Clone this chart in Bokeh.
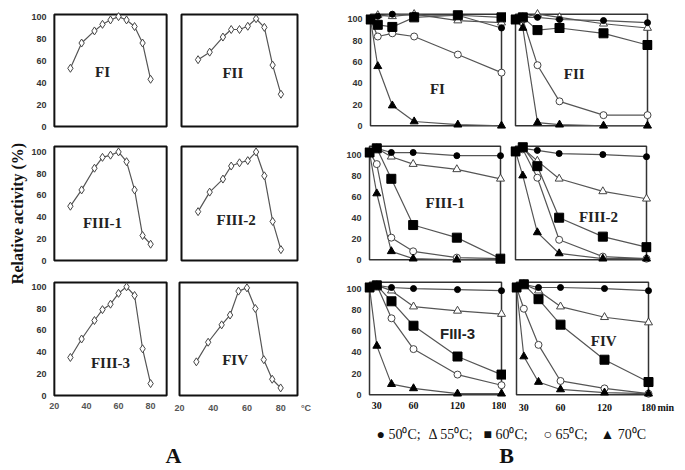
import math
from bokeh.plotting import figure
from bokeh.layouts import row, column
from bokeh.models import Range1d, FixedTicker, BoxAnnotation
from bokeh.core.properties import value
from bokeh.embed import file_html
from bokeh.resources import INLINE

# ---------------- data: panel A (temperature optimum) ----------------
temps = [30, 37, 45, 50, 55, 60, 65, 70, 75, 80]
a_FI = [53, 76, 87, 93, 97, 100, 97, 91, 76, 43]
a_FII = [62, 69, 83, 90, 90, 93, 100, 92, 57, 30]
a_FIII1 = [50, 65, 85, 95, 97, 100, 91, 65, 23, 15]
a_FIII2 = [45, 63, 75, 87, 90, 92, 100, 78, 36, 10]
a_FIII3 = [35, 52, 69, 79, 84, 94, 100, 92, 43, 11]
a_FIV = [31, 49, 65, 74, 96, 99, 80, 33, 15, 7]
a_xticks = [20, 40, 60, 80]
a_yticks = [0, 20, 40, 60, 80, 100]
a_unit = "°C"

# ---------------- data: panel B (thermal stability) ----------------
times = [0, 10, 30, 60, 120, 180]
b_xticks = [10, 60, 120, 180]
b_xtick_labels = {10: "30"}
b_unit = "min"
series_names = ["50⁰C;", "55⁰C;", "60⁰C;", "65⁰C;", "70⁰C"]

b_FI_50 = [100, 103, 105, 104, 104, 92]
b_FI_55 = [100, 104, 103, 105, 99, 97]
b_FI_60 = [100, 95, 93, 102, 104, 102]
b_FI_65 = [100, 84, 87, 84, 67, 50]
b_FI_70 = [100, 56, 19, 4, 1, 0]

b_FII_50 = [100, 102, 102, 100, 99, 97]
b_FII_55 = [100, 102, 105, 102, 96, 92]
b_FII_60 = [100, 102, 90, 92, 87, 76]
b_FII_65 = [100, 100, 57, 23, 10, 10]
b_FII_70 = [100, 92, 3, 1, 0, 0]

b_FIII1_50 = [102, 106, 102, 102, 99, 99]
b_FIII1_55 = [102, 106, 98, 91, 86, 77]
b_FIII1_60 = [102, 106, 77, 33, 21, 1]
b_FIII1_65 = [102, 91, 21, 8, 2, 1]
b_FIII1_70 = [102, 63, 8, 1, 0, 0]

b_FIII2_50 = [103, 106, 104, 101, 100, 98]
b_FIII2_55 = [103, 106, 94, 77, 65, 58]
b_FIII2_60 = [103, 107, 89, 40, 22, 12]
b_FIII2_65 = [103, 105, 78, 19, 3, 1]
b_FIII2_70 = [103, 80, 26, 6, 1, 1]

b_FIII3_50 = [101, 103, 101, 100, 99, 98]
b_FIII3_55 = [101, 103, 98, 83, 79, 76]
b_FIII3_60 = [101, 103, 88, 65, 36, 19]
b_FIII3_65 = [101, 103, 72, 43, 19, 9]
b_FIII3_70 = [101, 46, 10, 6, 1, 1]

b_FIV_50 = [101, 104, 101, 101, 100, 98]
b_FIV_55 = [101, 104, 98, 83, 73, 68]
b_FIV_60 = [101, 104, 90, 66, 33, 12]
b_FIV_65 = [101, 81, 47, 13, 6, 1]
b_FIV_70 = [101, 36, 12, 5, 2, 1]

SERIF = value("Liberation Serif")


def panel(fig_origin, fig_size, box, dbox, pads, outline, ow):
    """Figure whose drawn box sits at page rect `box`, data box `dbox`;
    the frame extends `pads` pixels past the box so markers are not clipped."""
    fx0, fy0 = fig_origin
    w, h = fig_size
    bx0, bx1, by0, by1 = box
    dx0, dx1, dy0, dy1 = dbox
    pl, pr, pt, pb = pads
    sx = (dx1 - dx0) / (bx1 - bx0)
    sy = (dy1 - dy0) / (by1 - by0)
    p = figure(width=w, height=h,
               x_range=Range1d(dx0 - pl * sx, dx1 + pr * sx),
               y_range=Range1d(dy0 - pb * sy, dy1 + pt * sy),
               output_backend="svg", toolbar_location=None,
               min_border_left=bx0 - pl - fx0, min_border_right=fx0 + w - bx1 - pr,
               min_border_top=by0 - pt - fy0, min_border_bottom=fy0 + h - by1 - pb)
    p.grid.visible = False
    p.outline_line_color = None
    p.background_fill_color = "white"
    p.border_fill_color = "white"
    p.add_layout(BoxAnnotation(left=dx0, right=dx1, bottom=dy0, top=dy1,
                               fill_alpha=0, line_color=outline, line_alpha=1,
                               line_width=ow, level="underlay"))
    for ax in p.axis:
        ax.minor_tick_line_color = None
        ax.major_tick_in = 0
        ax.major_tick_out = 0
        ax.axis_line_color = None
    return p


def style_y(p, show, standoff):
    ax = p.yaxis[0]
    if not show:
        ax.visible = False
        return
    ax.ticker = FixedTicker(ticks=a_yticks)
    ax.major_label_text_font = "Liberation Sans"
    ax.major_label_text_font_style = "bold"
    ax.major_label_text_font_size = "9px"
    ax.major_label_text_color = "#333333"
    ax.major_label_standoff = standoff


def a_panel(vals, name, lx, ly, origin, size, box, ytop, show_y, show_x, unit=False):
    pr = 14 if unit else 4
    p = panel(origin, size, box, (20, 90, 0, ytop), (4, pr, 6, 4), "#111111", 2)
    style_y(p, show_y, 4)
    ax = p.xaxis[0]
    if show_x:
        ticks = list(a_xticks)
        if unit:
            ticks.append(95)
            ax.major_label_overrides = {95: a_unit}
        ax.ticker = FixedTicker(ticks=ticks)
        ax.major_label_text_font = "Liberation Sans"
        ax.major_label_text_font_style = "bold"
        ax.major_label_text_font_size = "9px"
        ax.major_label_text_color = "#555555"
        ax.major_label_standoff = 3
    else:
        ax.visible = False
    p.line(temps, vals, line_color="#555555", line_width=1.2)
    p.scatter(temps, vals, marker="diamond", size=8, fill_color="white",
              line_color="#444444", line_width=1)
    p.text(x=[lx], y=[ly], text=[name], text_font=SERIF, text_font_style="bold",
           text_font_size="15px", text_color="#222222", text_align="center",
           text_baseline="middle")
    return p


def b_panel(series, name, lx, ly, origin, size, box, ytop, show_y, show_x,
            unit=False, name_font=SERIF):
    pr = 26 if unit else 5
    p = panel(origin, size, box, (0, 180, 0, ytop), (5, pr, 6, 5), "#333333", 1.5)
    style_y(p, show_y, 3)
    ax = p.xaxis[0]
    if show_x:
        ticks = list(b_xticks)
        labels = dict(b_xtick_labels)
        if unit:
            ticks.append(203.5)
            labels[203.5] = b_unit
        ax.ticker = FixedTicker(ticks=ticks)
        ax.major_label_overrides = labels
        ax.major_label_text_font = "Liberation Serif"
        ax.major_label_text_font_style = "bold"
        ax.major_label_text_font_size = "10px"
        ax.major_label_text_color = "#111111"
        ax.major_label_standoff = 2
    else:
        ax.visible = False
    s50, s55, s60, s65, s70 = series
    for s in (s50, s55, s60, s65, s70):
        p.line(times, s, line_color="#555555", line_width=1.2)
    p.scatter(times, s65, marker="circle", size=7, fill_color="white",
              line_color="#444444", line_width=1)
    p.scatter(times, s55, marker="triangle", size=8, fill_color="white",
              line_color="#444444", line_width=1)
    p.scatter(times, s70, marker="triangle", size=8, fill_color="black",
              line_color="black")
    p.scatter(times, s50, marker="circle", size=6, fill_color="black",
              line_color="black")
    p.scatter(times, s60, marker="square", size=9, fill_color="black",
              line_color="black")
    p.text(x=[lx], y=[ly], text=[name], text_font=name_font, text_font_style="bold",
           text_font_size="15px", text_color="#222222", text_align="center",
           text_baseline="middle")
    return p


# columns (page x): A-left 28..172, A-right 172..318, B-left 318..506, B-right 506..677
# rows (page y): 0..137, 137..272, 272..420, bottom strip 420..468
r1 = [
    a_panel(a_FI, "FI", 50, 50, (28, 0), (144, 137), (50, 166, 14, 127), 102, True, False),
    a_panel(a_FII, "FII", 51, 50, (172, 0), (146, 137), (181, 297, 12, 126), 104, False, False),
    b_panel([b_FI_50, b_FI_55, b_FI_60, b_FI_65, b_FI_70], "FI", 92, 35,
            (318, 0), (188, 137), (370, 501, 12, 130), 105, True, False),
    b_panel([b_FII_50, b_FII_55, b_FII_60, b_FII_65, b_FII_70], "FII", 80, 49,
            (506, 0), (171, 137), (515, 647, 12, 130), 105, False, False),
]
r2 = [
    a_panel(a_FIII1, "FIII-1", 50, 35, (28, 137), (144, 135), (49, 166, 146, 260), 105, True, False),
    a_panel(a_FIII2, "FIII-2", 53, 37, (172, 137), (146, 135), (181, 297, 146, 260), 105, False, False),
    b_panel([b_FIII1_50, b_FIII1_55, b_FIII1_60, b_FIII1_65, b_FIII1_70], "FIII-1", 104, 54,
            (318, 137), (188, 135), (369, 500, 144, 263), 108, True, False),
    b_panel([b_FIII2_50, b_FIII2_55, b_FIII2_60, b_FIII2_65, b_FIII2_70], "FIII-2", 114, 41,
            (506, 137), (171, 135), (515, 646, 144, 264), 108, False, False),
]
r3 = [
    a_panel(a_FIII3, "FIII-3", 55, 30, (28, 272), (144, 148), (49, 166, 281, 395), 104, True, True),
    a_panel(a_FIV, "FIV", 53, 33, (172, 272), (146, 148), (179, 297, 282, 397), 104, False, True,
            unit=True),
    b_panel([b_FIII3_50, b_FIII3_55, b_FIII3_60, b_FIII3_65, b_FIII3_70], "FIII-3", 120, 58,
            (318, 272), (188, 148), (369, 501, 278, 397), 106, True, True,
            name_font=value("Liberation Sans")),
    b_panel([b_FIV_50, b_FIV_55, b_FIV_60, b_FIV_65, b_FIV_70], "FIV", 119, 51,
            (506, 272), (171, 148), (516, 648, 278, 397), 106, False, True, unit=True),
]

# bottom strip: legend and panel letters (local x = page x - 28, local y = 468 - page y)
bottom = figure(width=649, height=48, x_range=Range1d(0, 649), y_range=Range1d(0, 48),
                output_backend="svg", toolbar_location=None, min_border=0)
bottom.axis.visible = False
bottom.grid.visible = False
bottom.outline_line_color = None
leg_symbols = ["●", "Δ", "■", "○", "▲"]
leg_x = [348, 400, 455, 515, 572]
leg_text = [f"{s} {n}" for s, n in zip(leg_symbols, series_names)]
bottom.text(x=leg_x, y=[34] * 5, text=leg_text, text_font=SERIF,
            text_font_size="14px", text_color="#111111", text_baseline="middle",
            text_align="left")
bottom.text(x=[145, 478], y=[13, 13], text=["A", "B"], text_font=SERIF,
            text_font_style="bold", text_font_size="22px", text_color="#111111",
            text_baseline="middle", text_align="center")

# left title (page x 0..28, y 0..420)
title = figure(width=28, height=420, x_range=Range1d(0, 28), y_range=Range1d(0, 420),
               output_backend="svg", toolbar_location=None, min_border=0)
title.axis.visible = False
title.grid.visible = False
title.outline_line_color = None
title.text(x=[17], y=[207], text=["Relative activity (%)"], angle=math.pi / 2,
           text_font=SERIF, text_font_style="bold", text_font_size="16px",
           text_color="#111111", text_align="center", text_baseline="middle")

panels = column(row(*r1), row(*r2), row(*r3), bottom)
layout = row(title, panels)

open("out.html", "w").write(file_html(layout, INLINE))
